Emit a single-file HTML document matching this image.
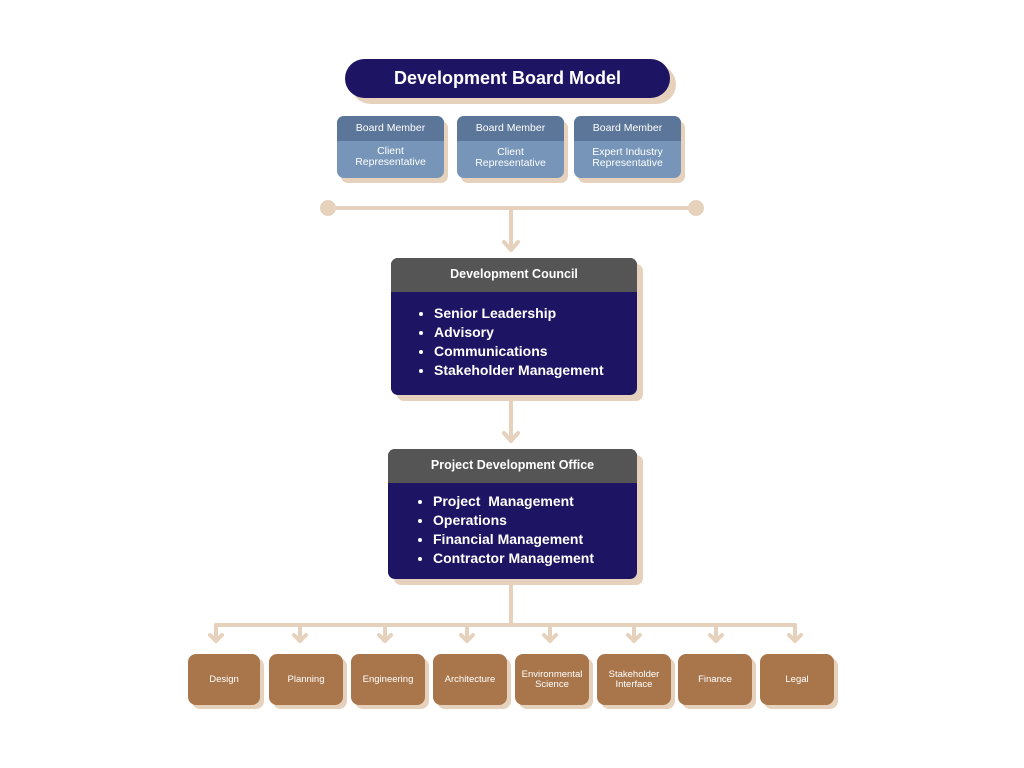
<!DOCTYPE html>
<html><head><meta charset="utf-8"><style>
body{margin:0;width:1024px;height:768px;background:#fff;position:relative;overflow:hidden;font-family:"Liberation Sans",sans-serif}
.a{position:absolute;box-sizing:border-box}
.sh{background:#e6d2bc}
.pill{background:#1e1464;color:#fff;font-weight:bold;font-size:18px;border-radius:20px;text-align:center;line-height:39px}
.bm{overflow:hidden;border-radius:7px;background:#7695b8;color:#fff;font-size:10.5px;text-align:center}
.bm .h{background:#5c7699;height:25px;line-height:25px}
.bm .b{line-height:11px;padding-top:5px}
.card{overflow:hidden;border-radius:7px;background:#1e1464;color:#fff}
.card .h{background:#555;text-align:center;font-weight:bold;font-size:12.5px}
.card ul{margin:0;padding:0 0 0 43px;font-weight:bold;font-size:14px;line-height:19px}
.dp{background:#a9764b;color:#fff;border-radius:8px;font-size:9.5px;text-align:center;display:flex;align-items:center;justify-content:center;line-height:10px}
.dsh{background:#e6d2bc;border-radius:8px}
</style></head><body>
<svg class="a" style="left:0;top:0" width="1024" height="768">
<g stroke="#e6d2bc" stroke-width="4" fill="none" stroke-linecap="round" stroke-linejoin="round">
<line x1="328" y1="208" x2="696" y2="208"/>
<line x1="511" y1="208" x2="511" y2="250"/><polyline points="504,242 511,250 518,242"/>
<line x1="511" y1="400" x2="511" y2="441"/><polyline points="504,433 511,441 518,433"/>
<line x1="511" y1="584" x2="511" y2="625"/>
<line x1="216" y1="625" x2="795" y2="625"/>
<g>
<line x1="216" y1="625" x2="216" y2="641"/><polyline points="210,635 216,641 222,635"/>
<line x1="300" y1="625" x2="300" y2="641"/><polyline points="294,635 300,641 306,635"/>
<line x1="385" y1="625" x2="385" y2="641"/><polyline points="379,635 385,641 391,635"/>
<line x1="467" y1="625" x2="467" y2="641"/><polyline points="461,635 467,641 473,635"/>
<line x1="550" y1="625" x2="550" y2="641"/><polyline points="544,635 550,641 556,635"/>
<line x1="634" y1="625" x2="634" y2="641"/><polyline points="628,635 634,641 640,635"/>
<line x1="716" y1="625" x2="716" y2="641"/><polyline points="710,635 716,641 722,635"/>
<line x1="795" y1="625" x2="795" y2="641"/><polyline points="789,635 795,641 801,635"/>
</g></g>
<circle cx="328" cy="208" r="8" fill="#e6d2bc"/><circle cx="696" cy="208" r="8" fill="#e6d2bc"/>
</svg>

<div class="a sh" style="top:65px;left:351px;width:325px;height:39px;border-radius:20px"></div>
<div class="a pill" style="left:345px;top:59px;width:325px;height:39px">Development Board Model</div>

<div class="a sh" style="left:341px;top:121px;width:107px;height:62px;border-radius:7px"></div>
<div class="a sh" style="left:461px;top:121px;width:107px;height:62px;border-radius:7px"></div>
<div class="a sh" style="left:578px;top:121px;width:107px;height:62px;border-radius:7px"></div>
<div class="a bm" style="left:337px;top:116px;width:107px;height:62px"><div class="h">Board Member</div><div class="b">Client<br>Representative</div></div>
<div class="a bm" style="left:457px;top:116px;width:107px;height:62px"><div class="h">Board Member</div><div class="b" style="padding-top:6px">Client<br>Representative</div></div>
<div class="a bm" style="left:574px;top:116px;width:107px;height:62px"><div class="h">Board Member</div><div class="b" style="padding-top:6px">Expert Industry<br>Representative</div></div>

<div class="a sh" style="left:397px;top:264px;width:246px;height:137px;border-radius:7px"></div>
<div class="a card" style="left:391px;top:258px;width:246px;height:137px">
<div class="h" style="height:34px;line-height:33px">Development Council</div>
<ul style="padding-top:12px"><li>Senior Leadership</li><li>Advisory</li><li>Communications</li><li>Stakeholder Management</li></ul></div>

<div class="a sh" style="left:394px;top:455px;width:249px;height:130px;border-radius:7px"></div>
<div class="a card" style="left:388px;top:449px;width:249px;height:130px">
<div class="h" style="height:34px;line-height:33px">Project Development Office</div>
<ul style="padding-top:9px;padding-left:45px"><li>Project&nbsp; Management</li><li>Operations</li><li>Financial Management</li><li>Contractor Management</li></ul></div>

<div class="a dsh" style="left:192px;top:658px;width:72px;height:51px"></div>
<div class="a dsh" style="left:273px;top:658px;width:74px;height:51px"></div>
<div class="a dsh" style="left:355px;top:658px;width:74px;height:51px"></div>
<div class="a dsh" style="left:437px;top:658px;width:74px;height:51px"></div>
<div class="a dsh" style="left:519px;top:658px;width:74px;height:51px"></div>
<div class="a dsh" style="left:601px;top:658px;width:74px;height:51px"></div>
<div class="a dsh" style="left:682px;top:658px;width:74px;height:51px"></div>
<div class="a dsh" style="left:764px;top:658px;width:74px;height:51px"></div>
<div class="a dp" style="left:188px;top:654px;width:72px;height:51px">Design</div>
<div class="a dp" style="left:269px;top:654px;width:74px;height:51px">Planning</div>
<div class="a dp" style="left:351px;top:654px;width:74px;height:51px">Engineering</div>
<div class="a dp" style="left:433px;top:654px;width:74px;height:51px">Architecture</div>
<div class="a dp" style="left:515px;top:654px;width:74px;height:51px">Environmental<br>Science</div>
<div class="a dp" style="left:597px;top:654px;width:74px;height:51px">Stakeholder<br>Interface</div>
<div class="a dp" style="left:678px;top:654px;width:74px;height:51px">Finance</div>
<div class="a dp" style="left:760px;top:654px;width:74px;height:51px">Legal</div>
</body></html>
